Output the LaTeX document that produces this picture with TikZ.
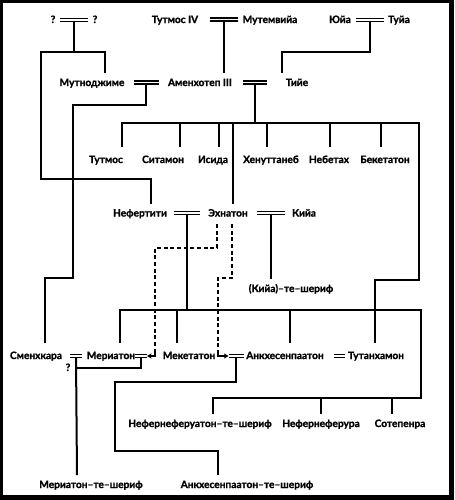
\documentclass[tikz,border=0pt]{standalone}
\usepackage{fontspec}
\setmainfont{Lato}[BoldFeatures={FakeBold=1.3}]
\usetikzlibrary{arrows.meta}
\newcommand\marr[4]{%
  \draw[line width=1.25pt] (#2-#4,#3-1.5) -- (#2+#4,#3-1.5) (#2-#4,#3+1.5) -- (#2+#4,#3+1.5);
  \coordinate (#1) at (#2,#3+1.5);
  \coordinate (#1w) at (#2-#4,#3);
  \coordinate (#1e) at (#2+#4,#3);}
\begin{document}
\begin{tikzpicture}[x=0.75pt,y=-0.75pt,
  lbl/.style={anchor=base,font=\bfseries\fontsize{7.6}{8}\selectfont,inner xsep=1pt,inner ysep=4pt,text height=5.4pt,text depth=1.5pt},
  kid/.style={lbl,inner ysep=6.3pt},
  ln/.style={line width=1.5pt},
  dsh/.style={line width=1.5pt,dash pattern=on 3pt off 2pt},
  hook/.style={line width=1.2pt,-{Stealth[length=3.5pt,width=4pt]}},
]
\fill[black] (0,0) rectangle (454,500);
\fill[white] (2.5,2.5) rectangle (448.5,495);
\useasboundingbox (0,0) rectangle (454,500);
% row 1
\node[lbl] (q1) at (53,23) {?};
\node[lbl] (q2) at (95,23) {?};
\node[lbl] (tut4) at (175,23) {Тутмос IV};
\node[lbl] (mutem) at (270,23) {Мутемвийа};
\node[lbl] (yuya) at (340,23) {Юйа};
\node[lbl] (tuya) at (399,23) {Туйа};
% row 2
\node[lbl] (mutn) at (92,86) {Мутноджиме};
\node[lbl] (amen) at (200,86) {Аменхотеп III};
\node[lbl] (tiye) at (297,86) {Тийе};
% row 3
\node[kid] (tutm) at (106,163) {Тутмос};
\node[kid] (sitam) at (163,163) {Ситамон};
\node[kid] (isida) at (213,163) {Исида};
\node[kid] (henut) at (271,163) {Хенуттанеб};
\node[kid] (nebet) at (329,163) {Небетах};
\node[kid] (beket) at (385,163) {Бекетатон};
% row 4
\node[lbl] (nefert) at (140,216.5) {Нефертити};
\node[lbl] (ekh) at (228,216.5) {Эхнатон};
\node[lbl] (kiya) at (304,216.5) {Кийа};
\node[lbl] (kiyat) at (291,292) {(Кийа)–те–шериф};
% row 5
\node[kid] (smenkh) at (36,359) {Сменхкара};
\node[kid] (meri) at (111,359) {Мериатон};
\node[kid] (meket) at (189,359) {Мекетатон};
\node[kid] (ankh) at (285,359) {Анкхесенпаатон};
\node[kid] (tutankh) at (376,359) {Тутанхамон};
\node[lbl] (q3) at (68,371) {?};
% row 6
\node[lbl] (nnft) at (200,427) {Нефернеферуатон–те–шериф};
\node[lbl] (nnfr) at (321,427) {Нефернеферура};
\node[lbl] (sotep) at (400,427) {Сотепенра};
% row 7
\node[lbl] (merit) at (91,488) {Мериатон–те–шериф};
\node[lbl] (ankht) at (247,488) {Анкхесенпаатон–те–шериф};
% marriages
\marr{s1}{74}{20}{14}
\marr{s2}{224}{19.5}{14}
\marr{s3}{370}{20}{14}
\marr{s4}{146}{82.5}{12.5}
\marr{s5}{255}{82.5}{12}
\marr{s6}{187}{213}{13}
\marr{s7}{271}{213}{14}
\marr{s8}{76}{356}{6}
\marr{s9}{141}{356}{6}
\marr{s10}{236}{356}{7.5}
\marr{s11}{339}{356}{5.5}
% lines
\draw[ln] (s1) -- (74,52);
\draw[ln] (105,0 |- mutn.north) |- (41,52) |- (151,179) -- (151,0 |- nefert.north);
\draw[ln] (s2) -- (s2 |- amen.north);
\draw[ln] (s3) |- (282,52) -- (282,0 |- tiye.north);
\draw[ln] (s4) |- (73,105) |- (45,278) -- (45,0 |- smenkh.north);
\draw[ln] (s5) -- (255,123);
\draw[ln] (122,0 |- tutm.north) |- (419,123) |- (375,280) -- (375,0 |- tutankh.north);
\foreach \x/\n in {180/sitam,219/isida,233/ekh,267/henut,330/nebet,381/beket}
  \draw[ln] (\x,123) -- (\x,0 |- \n.north);
\draw[ln] (s6) -- (187,310);
\draw[ln] (120,0 |- meri.north) |- (421,310) |- (213,398) -- (213,0 |- nnft.north);
\foreach \x/\n in {177/meket,290/ankh}
  \draw[ln] (\x,310) -- (\x,0 |- \n.north);
\foreach \x/\n in {321/nnfr,392/sotep}
  \draw[ln] (\x,398) -- (\x,0 |- \n.north);
\draw[ln] (s7) -- (271,0 |- kiyat.north);
\draw[ln] (s8) -- (77,0 |- merit.north);
\draw[ln] (s9) |- (76,368);
\draw[ln] (s10) |- (115,382) |- (218,451) -- (218,0 |- ankht.north);
% dashed
\draw[dsh] (217,0 |- ekh.south) |- (155,248) -- (155,350);
\draw[hook] (155,350) |- (s9e);
\draw[dsh] (232,0 |- ekh.south) |- (218,278) -- (218,350);
\draw[hook] (218,350) |- (s10w);
\end{tikzpicture}
\end{document}
